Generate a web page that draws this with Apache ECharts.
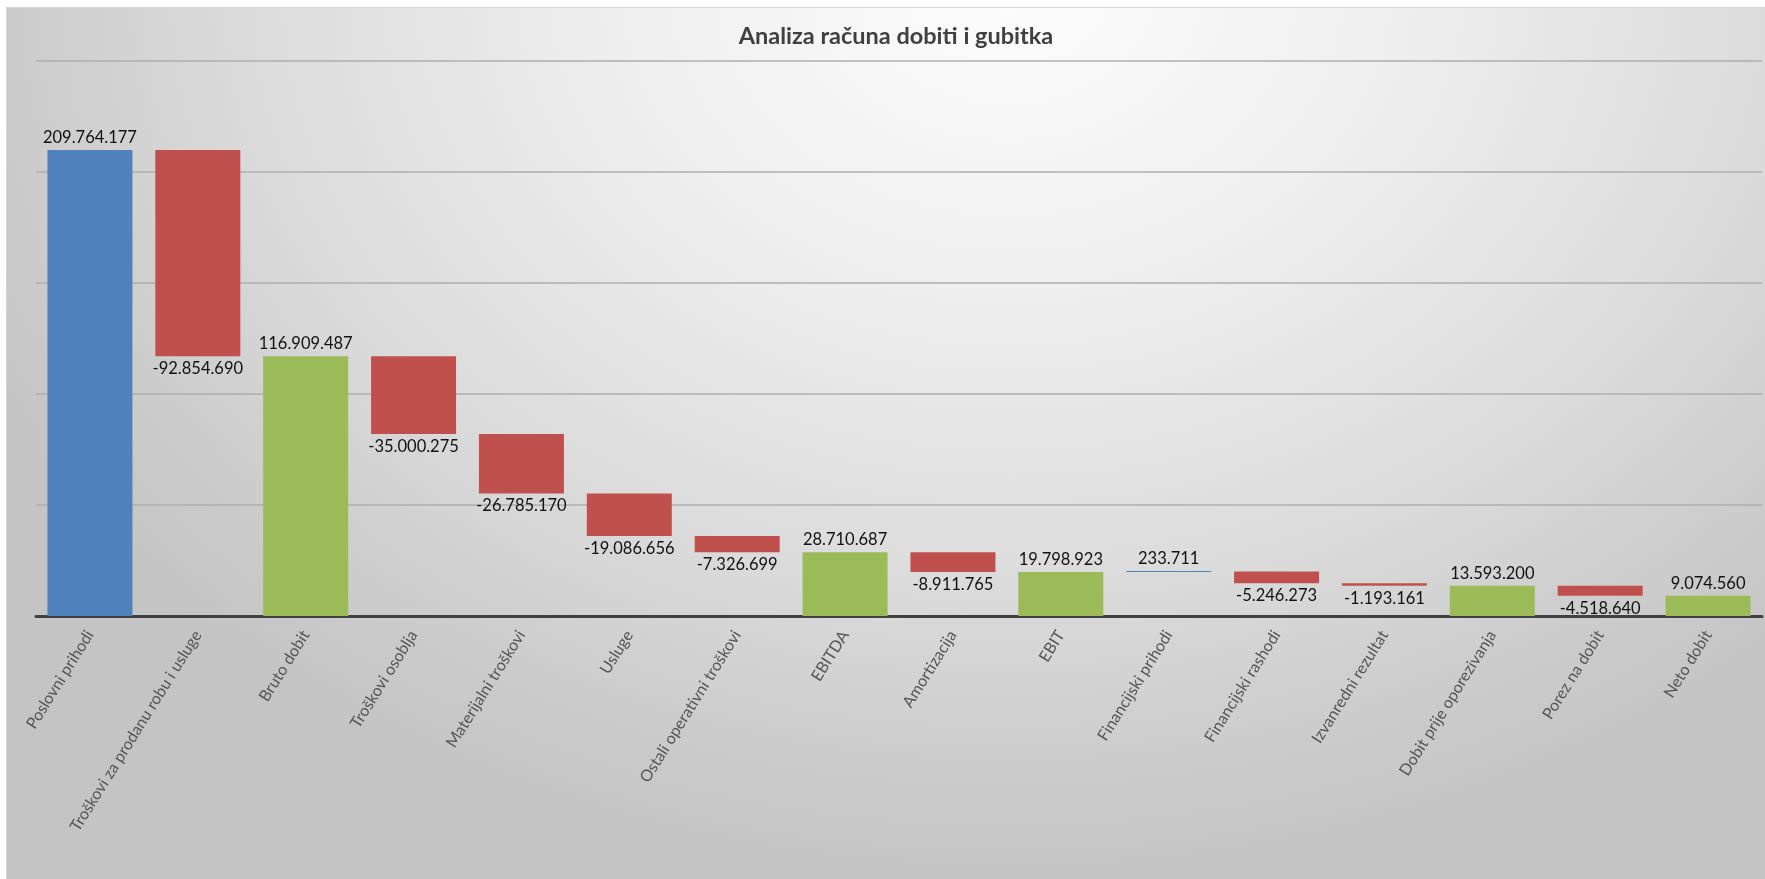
<!DOCTYPE html>
<html>
<head>
<meta charset="utf-8">
<script src="https://cdn.jsdelivr.net/npm/echarts@6/dist/echarts.min.js"></script>
<style>
  html, body { margin: 0; padding: 0; background: #ffffff; }
  #wrap { position: relative; width: 1765px; height: 879px; overflow: hidden; background: #ffffff; }
  #bg { position: absolute; left: 6px; top: 7px; width: 1765px; height: 879px;
        border-left: 1px solid #d4d4d4; border-top: 1px solid #d4d4d4;
        background: radial-gradient(ellipse 1150px 900px at 1000px -20px, #fdfdfd 0%, #eeeeee 35%, #dcdcdc 65%, #cdcdcd 85%, #c4c4c4 100%); }
  #chart { position: absolute; left: 0; top: 0; width: 1765px; height: 879px; }
</style>
</head>
<body>
<div id="wrap"><div id="bg"></div><div id="chart"></div></div>
<script>
const categories = ['Poslovni prihodi', 'Troškovi za prodanu robu i usluge', 'Bruto dobit', 'Troškovi osoblja',
  'Materijalni troškovi', 'Usluge', 'Ostali operativni troškovi', 'EBITDA', 'Amortizacija', 'EBIT',
  'Financijski prihodi', 'Financijski rashodi', 'Izvanredni rezultat', 'Dobit prije oporezivanja',
  'Porez na dobit', 'Neto dobit'];
const values = [209764177, -92854690, 116909487, -35000275, -26785170, -19086656, -7326699, 28710687,
  -8911765, 19798923, 233711, -5246273, -1193161, 13593200, -4518640, 9074560];
const isTotal = [false, false, true, false, false, false, false, true, false, true, false, false, false, true, false, true];
const yTicks = [0, 50000000, 100000000, 150000000, 200000000, 250000000];

const COLOR_UP = '#4f81bd', COLOR_DOWN = '#c0504d', COLOR_TOTAL = '#9bbb59';

function fmt(v) {
  const s = Math.abs(v).toString().replace(/\B(?=(\d{3})+(?!\d))/g, '.');
  return (v < 0 ? '-' : '') + s;
}

const baseData = [], barData = [];
let running = 0;
values.forEach((v, i) => {
  let lo, hi, color;
  if (isTotal[i]) { lo = 0; hi = v; running = v; color = COLOR_TOTAL; }
  else {
    const start = running, end = running + v;
    lo = Math.min(start, end); hi = Math.max(start, end); running = end;
    color = v >= 0 ? COLOR_UP : COLOR_DOWN;
  }
  baseData.push(lo);
  barData.push({
    value: hi - lo,
    itemStyle: { color: color },
    label: { position: v >= 0 ? 'top' : 'bottom' }
  });
});

const chart = echarts.init(document.getElementById('chart'), null, { renderer: 'canvas' });
chart.setOption({
  animation: false,
  backgroundColor: 'transparent',
  title: {
    text: 'Analiza računa dobiti i gubitka',
    left: 891, top: 19, textAlign: 'center',
    textStyle: { fontFamily: 'Lato', fontWeight: 'bold', fontSize: 23.5, color: '#404040' }
  },
  grid: { left: 36, right: 3, top: 60.5, bottom: 263, containLabel: false },
  xAxis: {
    type: 'category',
    data: categories,
    axisLine: { show: true, lineStyle: { color: '#404040', width: 3 } },
    axisTick: { show: false },
    axisLabel: { interval: 0, rotate: 58, margin: 16, color: '#555555', fontFamily: 'Lato', fontSize: 16 }
  },
  yAxis: {
    type: 'value',
    min: yTicks[0], max: yTicks[yTicks.length - 1], interval: yTicks[1] - yTicks[0],
    axisLine: { show: false }, axisTick: { show: false }, axisLabel: { show: false },
    splitLine: { show: true, lineStyle: { color: '#aeaeae', width: 1.5 } }
  },
  series: [
    {
      type: 'bar', stack: 'wf', data: baseData, barWidth: 85,
      itemStyle: { color: 'rgba(0,0,0,0)' }, silent: true
    },
    {
      type: 'bar', stack: 'wf', data: barData, barWidth: 85, barMinHeight: 1,
      label: {
        show: true, distance: 4, color: '#111111', fontFamily: 'Lato', fontSize: 16.5,
        formatter: p => fmt(values[p.dataIndex])
      }
    }
  ]
});
</script>
</body>
</html>
